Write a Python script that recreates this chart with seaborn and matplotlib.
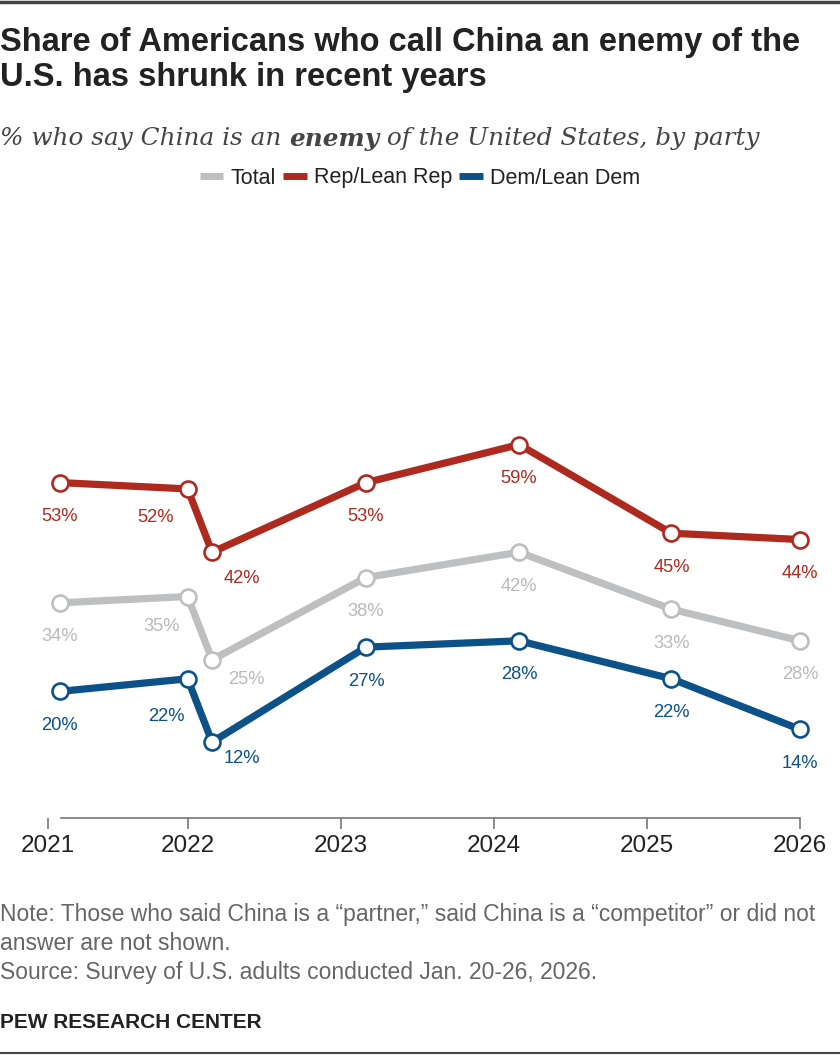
import matplotlib
matplotlib.use("Agg")
import matplotlib.pyplot as plt
from matplotlib.lines import Line2D
import seaborn as sns
import pandas as pd

sns.set_style("white")
plt.rcParams["font.family"] = ["Liberation Sans", "DejaVu Sans"]

# survey waves (fractional year positions) and shares
waves = [2021.165, 2022.0, 2022.16, 2023.165, 2024.165, 2025.16, 2026.0]
total = [34, 35, 25, 38, 42, 33, 28]
rep = [53, 52, 42, 53, 59, 45, 44]
dem = [20, 22, 12, 27, 28, 22, 14]
series_names = ["Total", "Rep/Lean Rep", "Dem/Lean Dem"]
year_labels = ["2021", "2022", "2023", "2024", "2025", "2026"]

colors = {"Total": "#BEBFC1", "Rep/Lean Rep": "#AE2A1F", "Dem/Lean Dem": "#0C5188"}
label_colors = {"Total": "#B9BABC", "Rep/Lean Rep": "#AE2A1F", "Dem/Lean Dem": "#0C5188"}

df = pd.DataFrame({
    "wave": waves * 3,
    "pct": total + rep + dem,
    "group": [n for n in series_names for _ in waves],
})

fig = plt.figure(figsize=(8.4, 10.56), dpi=100)
W, H = 840, 1056
ax = fig.add_axes([48.3 / W, 1 - 818 / H, (800 - 48.3) / W, 443 / H])

sns.lineplot(data=df, x="wave", y="pct", hue="group", hue_order=series_names,
             palette=colors, linewidth=5.2, marker="o", markersize=11.5,
             markerfacecolor="white", markeredgewidth=1.9, legend=False,
             sort=False, ax=ax, clip_on=False)
for ln in ax.lines:
    ln.set_markeredgecolor(ln.get_color())
    ln.set_solid_joinstyle("round")

ax.set_xlim(2021.09, 2026.0)
ax.set_ylim(0, 70)

# label offsets in pixels (dx, dy); default is straight below the point
special = {
    "Total": {1: (-26, -30), 2: (34, -20)},
    "Rep/Lean Rep": {1: (-32, -29), 2: (30, -26)},
    "Dem/Lean Dem": {1: (-21, -38), 2: (30, -16)},
}
for name, vals in zip(series_names, [total, rep, dem]):
    for i, (x, v) in enumerate(zip(waves, vals)):
        dx, dy = special[name].get(i, (0, -34))
        ax.annotate(f"{v}%", (x, v), xytext=(dx * 0.72, dy * 0.72),
                    textcoords="offset points", ha="center", va="center",
                    fontsize=13.2, color=label_colors[name])

for s in ["left", "top", "right"]:
    ax.spines[s].set_visible(False)
ax.spines["bottom"].set_color("#777777")
ax.spines["bottom"].set_linewidth(1.2)
ax.spines["bottom"].set_bounds(2021.175, 2026.0)
ax.set_yticks([])
ax.set_xticks([2021.09, 2022, 2023, 2024, 2025, 2026])
ax.set_xticklabels(year_labels)
ax.tick_params(axis="x", bottom=True, length=8, width=1.2, color="#777777", pad=4,
               labelsize=17.5, labelcolor="#222222")
ax.set_xlabel("")
ax.set_ylabel("")

# title
fig.text(0, 1 - 27 / H, "Share of Americans who call China an enemy of the\nU.S. has shrunk in recent years",
         ha="left", va="top", fontsize=23.5, fontweight="bold", color="#222222",
         linespacing=1.17)

# subtitle with bold word
fig.canvas.draw()
renderer = fig.canvas.get_renderer()
sub_y = 1 - 139 / H
parts = [("% who say China is an ", "normal"), ("enemy", "bold"),
         (" of the United States, by party", "normal")]
xpos = 0.0
for txt, wt in parts:
    t = fig.text(xpos, sub_y, txt, ha="left", va="center", fontsize=17.8,
                 style="italic", fontweight=wt, color="#444444",
                 family=["DejaVu Serif"])
    bb = t.get_window_extent(renderer)
    xpos = bb.x1 / W

# legend
handles = [Line2D([0], [0], color=colors[n], lw=5, solid_capstyle="butt") for n in series_names]
fig.legend(handles, series_names, loc="center", bbox_to_anchor=(0.5, 1 - 178 / H),
           ncol=3, frameon=False, handlelength=1.1, handletextpad=0.35,
           columnspacing=0.3, prop={"size": 15.5}, labelcolor="#222222")

# notes
note_lines = [
    "Note: Those who said China is a \u201cpartner,\u201d said China is a \u201ccompetitor\u201d or did not",
    "answer are not shown.",
    "Source: Survey of U.S. adults conducted Jan. 20-26, 2026.",
]
for k, line in enumerate(note_lines):
    fig.text(0, 1 - (914 + 29 * k) / H, line, ha="left", va="center",
             fontsize=16.5, color="#666666")
fig.text(0, 1 - 1022 / H, "PEW RESEARCH CENTER", ha="left", va="center",
         fontsize=15, fontweight="bold", color="#222222")

# frame lines
fig.add_artist(Line2D([0, 1], [1 - 1.5 / H, 1 - 1.5 / H], color="#444444", lw=2.5))
fig.add_artist(Line2D([0, 1], [1 - 1053 / H, 1 - 1053 / H], color="#444444", lw=1.5))

fig.savefig("out.png", dpi=100)
